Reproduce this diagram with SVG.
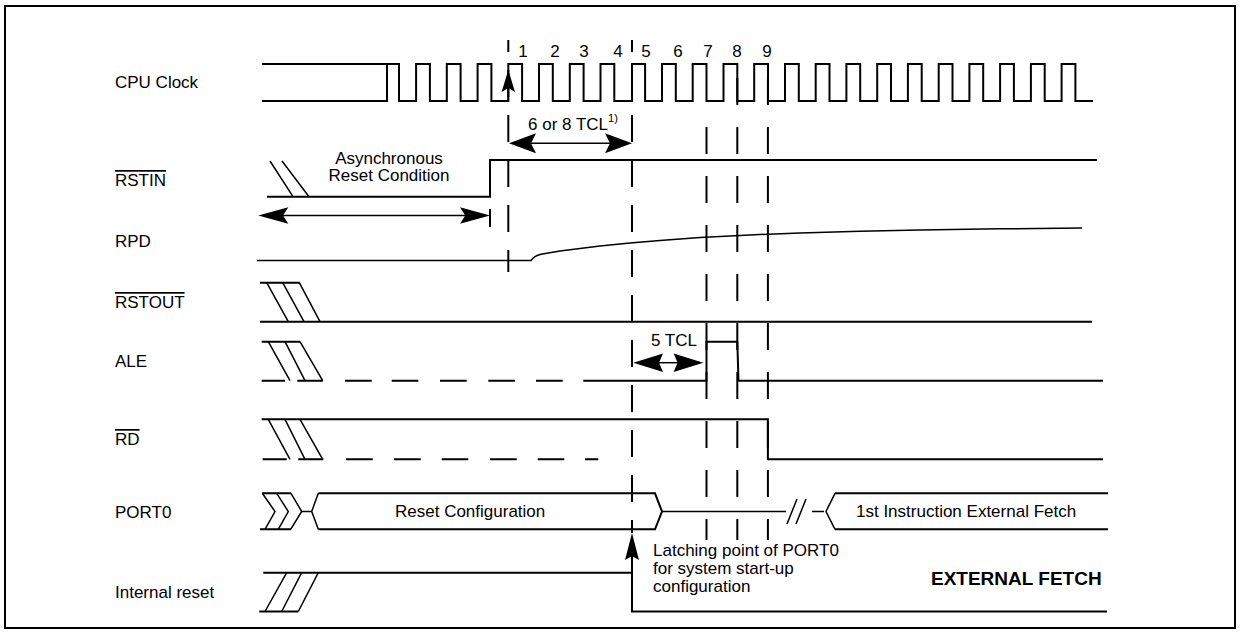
<svg xmlns="http://www.w3.org/2000/svg" width="1241" height="634" viewBox="0 0 1241 634">
<style>
.s{stroke:#000;stroke-width:2;fill:none}
.t{stroke:#000;stroke-width:1.5;fill:none}
.d{stroke:#000;stroke-width:2;fill:none}
.d45{stroke-dasharray:27 18;stroke-dashoffset:15}
.d49{stroke-dasharray:27 22}
.ah{fill:#000;stroke:none}
text{font-family:"Liberation Sans",Arial,Helvetica,sans-serif;font-size:17px;fill:#000}
.b{font-weight:bold;font-size:19px}
.ov{text-decoration:overline}
</style>
<rect x="5" y="6" width="1230" height="622" class="s" fill="#fff"/>

<g id="cpu-clock">
<text x="115" y="88">CPU Clock</text>
<path class="s" d="M262,101 H387 V64"/>
<path class="s" d="M262,64 H399 V101 H416.1 V64 H429.9 V101 H446.8 V64 H460.6 V101 H477.6 V64 H491.4 V101 H508.3 V64 H522.1 V101 H539 V64 H552.8 V101 H569.8 V64 H583.6 V101 H600.5 V64 H614.3 V101 H632 V64 H645.1 V101 H662 V64 H675.8 V101 H692.7 V64 H706.5 V101 H723.5 V64 H737.3 V101 H754.2 V64 H768 V101 H785 V64 H798.8 V101 H815.7 V64 H829.5 V101 H846.4 V64 H860.2 V101 H877.2 V64 H891 V101 H907.9 V64 H921.7 V101 H938.7 V64 H952.5 V101 H969.4 V64 H983.2 V101 H1000.1 V64 H1013.9 V101 H1030.9 V64 H1044.7 V101 H1061.6 V64 H1075.4 V101 H1093"/>
<g text-anchor="middle">
<text x="523" y="57">1</text><text x="555" y="57">2</text><text x="584" y="57">3</text>
<text x="618" y="57">4</text><text x="646" y="57">5</text><text x="678" y="57">6</text>
<text x="708" y="57">7</text><text x="737" y="57">8</text><text x="767" y="57">9</text>
</g>
</g>

<g id="rstin">
<text x="115" y="186" class="ov">RSTIN</text>
<path class="s" d="M267,196.7 H490 V160 H1097"/>
<path class="t" d="M270,161 L293,196.7 M282,161 L309,196.7"/>
<text x="389" y="164" text-anchor="middle">Asynchronous</text>
<text x="389" y="181" text-anchor="middle">Reset Condition</text>
</g>

<g id="rpd">
<text x="115" y="247">RPD</text>
<path class="t" d="M257,260.5 H531 Q534,256 541,254.2 L560,251 L580,248.4 L600,246 L630,243 L660,240.4 L700,237.6 L750,234.9 L800,232.9 L860,231.2 L920,229.9 L1000,228.8 L1082,228.1"/>
</g>

<g id="rstout">
<text x="115" y="308" class="ov">RSTOUT</text>
<path class="s" d="M260,282.7 H300 M260,321.7 H1092"/>
<path class="t" d="M266.7,282.7 L288.3,321.7 M282.7,282.7 L304,321.7 M299.3,282.7 L320,321.7"/>
</g>

<g id="ale">
<text x="115" y="367">ALE</text>
<path class="s" d="M261.7,341.7 H300"/>
<path class="t" d="M268.3,341.7 L290,380.7 M285,341.7 L305,380.7 M300,341.7 L322.7,380.7"/>
<path class="s" d="M261.7,380.7 H285 M297.3,380.7 H322.7 M345,380.7 H371.7 M391.7,380.7 H418.3 M440,380.7 H466.7 M488.3,380.7 H515 M536,380.7 H562.7"/>
<path class="s" d="M583.3,380.7 H706.5 V341.7 H737.3 L738.5,380.7 H1103"/>
<text x="651" y="346">5 TCL</text>
</g>

<g id="rd">
<text x="115" y="445" class="ov">RD</text>
<path class="s" d="M261.7,419.3 H767.9 V459.3 H1103"/>
<path class="t" d="M268.3,419.3 L290,459.3 M285,419.3 L305,459.3 M300,419.3 L322.7,459.3"/>
<path class="s" d="M262.7,459.3 H286.7 M298.3,459.3 H323.3 M346,459.3 H372.7 M394,459.3 H420.7 M441.7,459.3 H468.3 M490,459.3 H516.7 M537.7,459.3 H564.3 M585,459.3 H598.3"/>
</g>

<g id="port0">
<text x="115" y="518">PORT0</text>
<path class="s" d="M262,493.3 H291 M260,529.3 H291"/>
<path class="t" d="M262.3,493.3 L275,511.5 L265,529.3 M276.7,493.3 L288.3,511.5 L278.3,529.3 M291,493.3 L301.7,511.5 L290.7,529.3 H291"/>
<path class="t" d="M301.7,511.5 H311.7 M318.3,493.3 L311.7,511.5 L318.3,529.3"/>
<path class="s" d="M318.3,493.3 H655 L662,511.5 L655,529.3 H318.3"/>
<text x="395" y="517">Reset Configuration</text>
<path class="t" d="M662,511.5 H786 M787,524 L797,499 M796,524 L806,499 M812,511.5 H824 M835,493.3 L826,511.5 L835,529.3"/>
<path class="s" d="M835,493.3 H1108 M835,529.3 H1108"/>
<text x="856" y="517">1st Instruction External Fetch</text>
</g>

<g id="internal-reset">
<text x="115" y="598">Internal reset</text>
<path class="s" d="M259.3,611.5 H298.3 M263.3,572.7 H632 V611.5 H1107"/>
<path class="t" d="M265,611.5 L286.7,572.7 M281.7,611.5 L301.7,572.7 M298.3,611.5 L318.3,572.7"/>
</g>

<g id="annotations">
<text x="528" y="130">6 or 8 TCL<tspan font-size="11" dy="-8">1)</tspan></text>
<text x="653" y="556">Latching point of PORT0</text>
<text x="653" y="574">for system start-up</text>
<text x="653" y="592">configuration</text>
<text x="931" y="585" class="b">EXTERNAL FETCH</text>
</g>

<g id="connectors">
<line class="d d45" x1="508.3" y1="40" x2="508.3" y2="272"/>
<line class="d d45" x1="632" y1="40" x2="632" y2="533"/>
<line class="d d49" x1="706.5" y1="127" x2="706.5" y2="540"/>
<line class="d d49" x1="737.3" y1="78" x2="737.3" y2="540"/>
<line class="d d49" x1="767.9" y1="78" x2="767.9" y2="540"/>
<path class="t" d="M508.3,101 V86"/>
<path class="ah" d="M508.3,70 L515,92 L508.3,88 L501.6,92 Z"/>
<path class="t" d="M530,143.3 H611"/>
<path class="ah" d="M509,143.3 L536,133.3 L531,143.3 L536,153.3 Z"/>
<path class="ah" d="M632,143.3 L605,133.3 L610,143.3 L605,153.3 Z"/>
<path class="t" d="M280,215.5 H470"/>
<path class="ah" d="M258.3,215.5 L288.3,207.2 L283,215.5 L288.3,223.8 Z"/>
<path class="ah" d="M490,215.5 L460,207.2 L465.3,215.5 L460,223.8 Z"/>
<path class="s" d="M490,209 V227"/>
<path class="t" d="M655,362.7 H685"/>
<path class="ah" d="M633.3,362.7 L663,353.5 L659,362.7 L663,371.9 Z"/>
<path class="ah" d="M703.3,362.7 L673.6,353.5 L677.6,362.7 L673.6,371.9 Z"/>
<path class="s" d="M632,611.5 V555"/>
<path class="ah" d="M632,533 L639,560 L632,556 L625,560 Z"/>
</g>
</svg>
